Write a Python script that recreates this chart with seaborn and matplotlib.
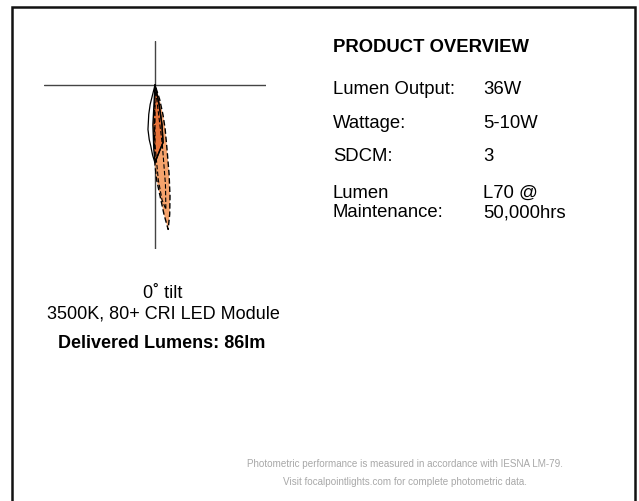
import numpy as np
import pandas as pd
import matplotlib
matplotlib.use("Agg")
import matplotlib.pyplot as plt
from matplotlib.patches import Rectangle
import seaborn as sns

sns.set_theme(style="white")
plt.rcParams['font.family'] = ['Liberation Sans', 'DejaVu Sans']
plt.rcParams['text.color'] = 'black'

# ---- photometric curves (angle from nadir in degrees, relative intensity) ----
outline_angles = [-18, -14, -12, -9, -6, -4, -2, 0, 4, 8, 10, 12, 14]
outline_values = [0, 20, 30, 45, 55, 61, 70, 78, 66, 58, 40, 20, 0]

dark_angles = [-6, -3, -1, 0, 4, 8, 10, 12, 14]
dark_values = [0, 40, 65, 77, 66, 58, 40, 20, 0]

light_angles = [-3, -1, 0, 1, 2.6, 4, 5.2, 6.5, 7.7, 9, 10.9, 13, 15, 18, 20]
light_values = [0, 40, 80, 95, 111, 130, 145, 130, 112, 90, 62, 45, 31, 15, 0]

inner_angles = [-1, 0, 2, 3.5, 5, 6, 7, 8]
inner_values = [0, 60, 95, 115, 125, 100, 60, 0]

# ---- text content ----
overview_title = "PRODUCT OVERVIEW"
spec_labels = ["Lumen Output:", "Wattage:", "SDCM:", "Lumen\nMaintenance:"]
spec_values = ["36W", "5-10W", "3", "L70 @\n50,000hrs"]
tilt_text = "0˚ tilt"
module_text = "3500K, 80+ CRI LED Module"
delivered_text = "Delivered Lumens: 86lm"
footer_lines = ["Photometric performance is measured in accordance with IESNA LM-79.",
                "Visit focalpointlights.com for complete photometric data."]

W, H = 639, 502
fig = plt.figure(figsize=(W / 100, H / 100), dpi=100)
fig.patch.set_facecolor("white")

def fx(px):
    return px / W

def fy(py):
    return 1 - py / H

# outer frame (open at bottom)
fig.add_artist(Rectangle((fx(12), fy(530)), fx(623), 530 / H - 8 / H, fill=False,
                         edgecolor="#111111", linewidth=1.8, transform=fig.transFigure))

# polar diagram axes (1 data unit ~ 1 px)
ax = fig.add_axes([fx(44), fy(250), fx(222), 208 / H])
ax.set_xlim(-111, 111)
ax.set_ylim(-164, 44)
ax.axis("off")
ax.axhline(0, color="#444444", lw=1.0, zorder=1)
ax.axvline(0, color="#444444", lw=1.0, zorder=1)

def to_xy(angles, values):
    a = np.radians(np.asarray(angles, dtype=float))
    r = np.asarray(values, dtype=float)
    return pd.DataFrame({"x": r * np.sin(a), "y": -r * np.cos(a)})

light = to_xy(light_angles, light_values)
dark = to_xy(dark_angles, dark_values)
outline = to_xy(outline_angles, outline_values)
inner = to_xy(inner_angles, inner_values)

ax.fill(light["x"], light["y"], color="#F6A36C", zorder=2, lw=0)
ax.fill(dark["x"], dark["y"], color="#E8733A", zorder=3, lw=0)
sns.lineplot(data=light, x="x", y="y", sort=False, estimator=None, ax=ax,
             color="black", lw=1.0, linestyle=(0, (4, 2)), zorder=5)
sns.lineplot(data=inner, x="x", y="y", sort=False, estimator=None, ax=ax,
             color="black", lw=0.8, linestyle=(0, (4, 2)), zorder=5)
sns.lineplot(data=dark, x="x", y="y", sort=False, estimator=None, ax=ax,
             color="black", lw=1.0, zorder=6)
sns.lineplot(data=outline, x="x", y="y", sort=False, estimator=None, ax=ax,
             color="black", lw=0.9, zorder=6)
ax.set_xlabel("")
ax.set_ylabel("")

# right panel text
fig.text(fx(333), fy(48), overview_title, fontsize=13.3, fontweight="bold",
         va="center", ha="left", color="black")
row_y = [89, 124, 157, 203]
for lab, val, y in zip(spec_labels, spec_values, row_y):
    fig.text(fx(333), fy(y), lab, fontsize=13.3, va="center", ha="left",
             color="black", linespacing=1.2)
    fig.text(fx(483), fy(y), val, fontsize=13.3, va="center", ha="left",
             color="black", linespacing=1.2)

# left captions
fig.text(fx(163), fy(293), tilt_text, fontsize=13, ha="center", va="center", color="black")
fig.text(fx(163), fy(314), module_text, fontsize=13, ha="center", va="center", color="black")
fig.text(fx(162), fy(344), delivered_text, fontsize=13, fontweight="bold",
         ha="center", va="center", color="black")

# footer
fig.text(fx(405), fy(464), footer_lines[0], fontsize=7.1, ha="center",
         va="center", color="#A8A8A8")
fig.text(fx(405), fy(482), footer_lines[1], fontsize=7.1, ha="center",
         va="center", color="#A8A8A8")

fig.savefig("out.png", dpi=100, facecolor="white")
